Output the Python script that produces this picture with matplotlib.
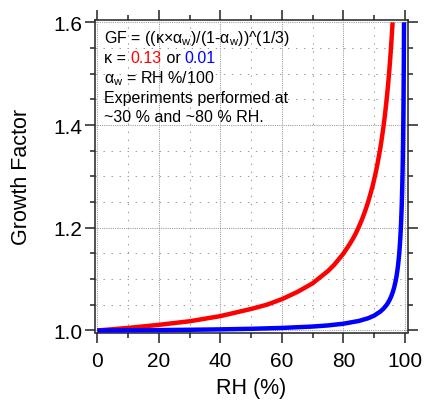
import matplotlib
matplotlib.use("Agg")
import matplotlib.pyplot as plt
from matplotlib.ticker import FixedLocator

plt.rcParams['font.family'] = ['Liberation Sans', 'DejaVu Sans']
plt.rcParams['mathtext.fontset'] = 'custom'
plt.rcParams['mathtext.rm'] = 'Liberation Sans'
plt.rcParams['mathtext.it'] = 'Liberation Sans:italic'

# Data
rh_red = [0, 10, 20, 30, 40, 50, 55, 60, 65, 70, 75, 77, 80, 82, 83, 84, 85, 86, 87,
          88, 89, 89.5, 90, 90.5, 91, 91.5, 92, 92.5, 93, 93.5, 94, 94.5, 95, 95.5, 95.97]
gf_red = [1.000, 1.005, 1.011, 1.018, 1.028, 1.042, 1.050, 1.061, 1.075, 1.092,
          1.116, 1.128, 1.150, 1.168, 1.178, 1.189, 1.202, 1.216, 1.232, 1.250,
          1.271, 1.282, 1.295, 1.308, 1.323, 1.339, 1.356, 1.376, 1.397, 1.421,
          1.448, 1.479, 1.514, 1.555, 1.600]
rh_blue = [0, 10, 20, 30, 40, 50, 60, 70, 75, 80, 85, 88, 90, 92, 93, 94, 94.5, 95,
           95.5, 96, 96.5, 97, 97.25, 97.5, 97.75, 98, 98.15, 98.3, 98.45, 98.6, 98.75,
           98.9, 99.0, 99.1, 99.2, 99.3, 99.38, 99.45, 99.5, 99.55, 99.59, 99.62,
           99.65, 99.678]
gf_blue = [1.000, 1.0004, 1.0008, 1.0014, 1.0022, 1.0033, 1.0050, 1.0077, 1.0099,
           1.0132, 1.0186, 1.0238, 1.0291, 1.0370, 1.0425, 1.0497, 1.0543, 1.0597,
           1.0663, 1.0743, 1.0845, 1.0978, 1.1062, 1.1160, 1.1277, 1.1420, 1.1524,
           1.1645, 1.1781, 1.1945, 1.2140, 1.2384, 1.2578, 1.2808, 1.3084, 1.3421,
           1.3756, 1.4106, 1.4408, 1.4755, 1.5083, 1.5355, 1.5669, 1.600]

x_major = [0, 20, 40, 60, 80, 100]
x_minor = [10, 30, 50, 70, 90]
y_major = [1.0, 1.2, 1.4, 1.6]
y_minor = [1.05, 1.1, 1.15, 1.25, 1.3, 1.35, 1.45, 1.5, 1.55]

fig = plt.figure(figsize=(4.27, 4.02), dpi=100)
ax = fig.add_axes([95/427, 1 - 333.5/402, (407.7 - 95)/427, (333.5 - 20.7)/402])

ax.plot(rh_red, gf_red, color='#ff0000', lw=3.2, solid_capstyle='butt',
        solid_joinstyle='round', zorder=3)
ax.plot(rh_blue, gf_blue, color='#0000ff', lw=3.2, solid_capstyle='butt',
        solid_joinstyle='round', zorder=3)

ax.set_xlim(-0.75, 100.87)
ax.set_ylim(0.9961, 1.6051)

ax.xaxis.set_major_locator(FixedLocator(x_major))
ax.xaxis.set_minor_locator(FixedLocator(x_minor))
ax.yaxis.set_major_locator(FixedLocator(y_major))
ax.yaxis.set_minor_locator(FixedLocator(y_minor))
ax.set_xticklabels([str(v) for v in x_major])
ax.set_yticklabels(['%.1f' % v for v in y_major])

spc = '#222222'
for s in ax.spines.values():
    s.set_color(spc)
    s.set_linewidth(1.1)

ax.tick_params(which='both', direction='out', top=True, right=True,
               color=spc, width=1.1, labelsize=15)
ax.tick_params(which='major', length=7.2)
ax.tick_params(which='minor', length=3.6)
ax.tick_params(axis='x', which='major', pad=6)
ax.tick_params(axis='y', which='major', pad=2)

ax.set_axisbelow(True)
ax.grid(which='major', color='#999999', lw=0.75, linestyle=(0, (1.0, 1.1)))
ax.grid(which='minor', color='#999999', lw=0.75, linestyle=(0, (1.3, 6.4)))

ax.set_xlabel('RH (%)', fontsize=15.5, labelpad=5)
ax.set_ylabel('Growth Factor', fontsize=15.5, labelpad=15)

fs = 11.5
x0 = 104
def fig_xy(px, py):
    return (px / 427, 1 - py / 402)

fig.text(*fig_xy(x0, 38), 'GF = ((κ×α$_\\mathrm{w}$)/(1-α$_\\mathrm{w}$))^(1/3)',
         fontsize=fs, va='center', ha='left')
prev = fig.text(*fig_xy(x0, 59), 'κ = ', fontsize=fs, va='center', ha='left')
parts = [('0.13', '#ff0000'), (' or ', 'black'), ('0.01', '#0000ff')]
for txt, col in parts:
    prev = ax.annotate(txt, xy=(1, 0), xycoords=prev, va='bottom', ha='left',
                       fontsize=fs, color=col)
fig.text(*fig_xy(x0, 79), 'α$_\\mathrm{w}$ = RH %/100', fontsize=fs, va='center', ha='left')
fig.text(*fig_xy(x0, 99), 'Experiments performed at', fontsize=fs, va='center', ha='left')
fig.text(*fig_xy(x0, 118), '~30 % and ~80 % RH.', fontsize=fs, va='center', ha='left')

fig.savefig('out.png', dpi=100)
